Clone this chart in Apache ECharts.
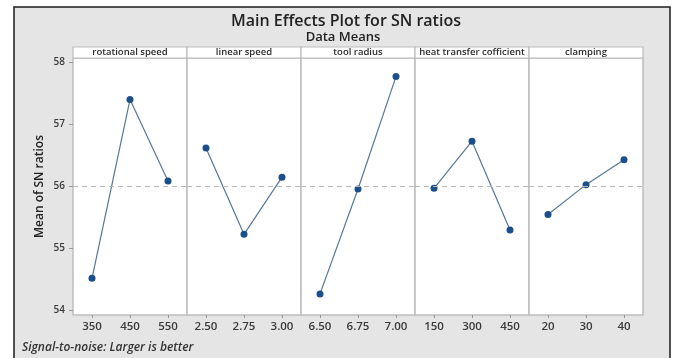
<!DOCTYPE html>
<html>
<head>
<meta charset="utf-8">
<script src="https://cdn.jsdelivr.net/npm/echarts@6/dist/echarts.min.js"></script>
<style>
  html, body { margin: 0; padding: 0; background: #ffffff; }
  #chart { width: 675px; height: 358px; }
</style>
</head>
<body>
<div id="chart"></div>
<script>
// Factors and their levels
const factors = ['rotational speed', 'linear speed', 'tool radius', 'heat transfer cofficient', 'clamping'];
const rotationalSpeedLevels = ['350', '450', '550'];
const linearSpeedLevels = ['2.50', '2.75', '3.00'];
const toolRadiusLevels = ['6.50', '6.75', '7.00'];
const heatTransferLevels = ['150', '300', '450'];
const clampingLevels = ['20', '30', '40'];

// Mean SN ratio at each level
const rotationalSpeedSN = [54.52, 57.40, 56.09];
const linearSpeedSN = [56.62, 55.23, 56.15];
const toolRadiusSN = [54.27, 55.96, 57.77];
const heatTransferSN = [55.97, 56.73, 55.30];
const clampingSN = [55.55, 56.03, 56.43];

// Y axis tick labels
const yTicks = [54, 55, 56, 57, 58];

const levels = [rotationalSpeedLevels, linearSpeedLevels, toolRadiusLevels, heatTransferLevels, clampingLevels];
const values = [rotationalSpeedSN, linearSpeedSN, toolRadiusSN, heatTransferSN, clampingSN];

// Grand mean drawn as the dashed reference line
const all = values.flat();
const grandMean = all.reduce((a, b) => a + b, 0) / all.length;

const FONT = '"Open Sans", "Noto Sans", sans-serif';
const panelLeft = 73, panelW = 114, panelTop = 58, panelH = 257, stripH = 11;

const grids = [], xAxes = [], yAxes = [], series = [], graphics = [];

// Outer frame
graphics.push({
  type: 'rect', z: -10, silent: true,
  shape: { x: 14, y: 7, width: 656, height: 360 },
  style: { fill: '#e5e5e5', stroke: '#1a1a1a', lineWidth: 1.5 }
});

factors.forEach((name, i) => {
  const left = panelLeft + i * panelW;
  grids.push({
    left: left, top: panelTop, width: panelW, height: panelH,
    show: true, backgroundColor: '#ffffff', borderColor: '#bdbdbd', borderWidth: 1.5
  });
  xAxes.push({
    type: 'category', gridIndex: i, data: levels[i], boundaryGap: true,
    axisLine: { show: false },
    axisTick: { show: true, alignWithLabel: true, length: 3, lineStyle: { color: '#999' } },
    axisLabel: { color: '#3a3a3a', fontSize: 11.5, fontWeight: 600, fontFamily: FONT, margin: 6 },
    splitLine: { show: false }
  });
  yAxes.push({
    type: 'value', gridIndex: i, min: 53.93, max: 58.07,
    show: i === 0,
    name: i === 0 ? 'Mean of SN ratios' : '',
    nameLocation: 'middle', nameGap: 27,
    nameTextStyle: { color: '#222', fontSize: 12, fontWeight: 600, fontFamily: FONT },
    axisLine: { show: false },
    axisTick: { show: true, length: 4, lineStyle: { color: '#999' }, customValues: yTicks },
    axisLabel: { color: '#3a3a3a', fontSize: 10, fontWeight: 600, fontFamily: FONT, margin: 8, customValues: yTicks },
    splitLine: { show: false }
  });
  series.push({
    type: 'line', xAxisIndex: i, yAxisIndex: i, data: values[i],
    symbol: 'circle', symbolSize: 7,
    lineStyle: { color: '#56779a', width: 1.2 },
    itemStyle: { color: '#1b4f8c' },
    animation: false,
    markLine: {
      silent: true, symbol: 'none', label: { show: false },
      lineStyle: { color: '#b8b8b8', type: [5, 4], width: 1.2 },
      data: [{ yAxis: grandMean }]
    }
  });
  // Factor strip above each panel
  graphics.push({
    type: 'rect', silent: true, z: 5,
    shape: { x: left, y: panelTop - stripH, width: panelW, height: stripH },
    style: { fill: '#ffffff', stroke: '#bdbdbd', lineWidth: 1.2 }
  });
  graphics.push({
    type: 'text', silent: true, z: 6,
    x: left + panelW / 2, y: panelTop - stripH / 2,
    style: { text: name, fill: '#2a2a2a', font: '600 9.5px ' + FONT, align: 'center', verticalAlign: 'middle' }
  });
});

// Footnote
graphics.push({
  type: 'text', silent: true, x: 22, y: 348,
  style: { text: 'Signal-to-noise: Larger is better', fill: '#333', font: 'italic 600 12px ' + FONT, verticalAlign: 'middle' }
});

const chart = echarts.init(document.getElementById('chart'), null, { renderer: 'canvas' });
chart.setOption({
  backgroundColor: '#ffffff',
  animation: false,
  title: [
    { text: 'Main Effects Plot for SN ratios', left: 341, top: 8, textAlign: 'center',
      textStyle: { fontFamily: FONT, fontSize: 16, fontWeight: 600, color: '#222' } },
    { text: 'Data Means', left: 338, top: 26, textAlign: 'center',
      textStyle: { fontFamily: FONT, fontSize: 13, fontWeight: 600, color: '#222' } }
  ],
  grid: grids,
  xAxis: xAxes,
  yAxis: yAxes,
  series: series,
  graphic: graphics
});
</script>
</body>
</html>
